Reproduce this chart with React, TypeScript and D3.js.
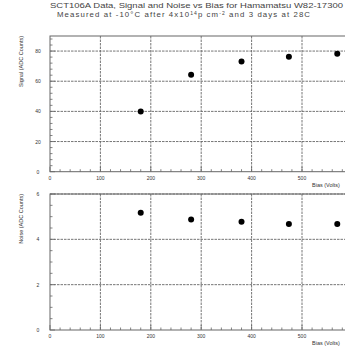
import React from "react";
import * as d3 from "d3";

const biasValues = [180, 280, 380, 474, 570];
const signalValues = [40, 64.3, 73.1, 76.2, 78.2];
const noiseValues = [5.17, 4.88, 4.78, 4.68, 4.68];
const xTicks = [0, 100, 200, 300, 400, 500];
const signalTicks = [0, 20, 40, 60, 80];
const noiseTicks = [0, 2, 4, 6];
const titleLine1 = "SCT106A Data, Signal and Noise vs Bias for Hamamatsu W82-17300";
const titleLine2a = "Measured at -10\u00B0C after 4x10";
const titleLine2b = "14";
const titleLine2c = "p cm";
const titleLine2d = "-2";
const titleLine2e = " and 3 days at 28C";

const W = 345;
const H = 348;
const font = "Liberation Sans, Arial, sans-serif";

const x = d3.scaleLinear().domain([0, 600]).range([50, 352.4]);

type PanelProps = {
  yDomain: [number, number];
  yRange: [number, number];
  yTicks: number[];
  yMinorStep: number;
  values: number[];
  yTitle: string;
};

function Panel({ yDomain, yRange, yTicks, yMinorStep, values, yTitle }: PanelProps) {
  const y = d3.scaleLinear().domain(yDomain).range(yRange);
  const [y0, y1] = yRange;
  const xMinor = d3.range(0, 620, 20);
  const yMinor = d3.range(yDomain[0], yDomain[1] + 1e-9, yMinorStep);
  return (
    <g>
      {xTicks.slice(1).map((t) => (
        <line key={"gx" + t} x1={x(t)} x2={x(t)} y1={y1} y2={y0} stroke="#666" strokeWidth={0.9} strokeDasharray="2.5,1" />
      ))}
      {yTicks.slice(1).map((t) => (
        <line key={"gy" + t} x1={x(0)} x2={x(600)} y1={y(t)} y2={y(t)} stroke="#666" strokeWidth={0.9} strokeDasharray="2.5,1" />
      ))}
      <rect x={x(0)} y={y1} width={x(600) - x(0)} height={y0 - y1} fill="none" stroke="#666" strokeWidth={1} />
      {xMinor.map((t) => (
        <line key={"mx" + t} x1={x(t)} x2={x(t)} y1={y0} y2={y0 - (t % 100 === 0 ? 5 : 2.5)} stroke="#666" strokeWidth={0.8} />
      ))}
      {yMinor.map((t, i) => (
        <line key={"my" + i} x1={x(0)} x2={x(0) + (yTicks.some((m) => Math.abs(m - t) < 1e-6) ? 5 : 2.5)} y1={y(t)} y2={y(t)} stroke="#666" strokeWidth={0.8} />
      ))}
      {xTicks.map((t) => (
        <text key={"lx" + t} x={x(t)} y={y0 + 8} fontSize={5} fontFamily={font} textAnchor="middle" fill="#333">{t}</text>
      ))}
      {yTicks.map((t) => (
        <text key={"ly" + t} x={38} y={y(t) + 2} fontSize={5} fontFamily={font} textAnchor="middle" fill="#333">{t}</text>
      ))}
      <text x={312} y={y0 + 15} fontSize={5.5} fontFamily={font} fill="#333">Bias (Volts)</text>
      <text transform={`translate(23, ${y1}) rotate(-90)`} fontSize={5.5} fontFamily={font} textAnchor="end" fill="#333">{yTitle}</text>
      {biasValues.map((b, i) => (
        <circle key={"p" + i} cx={x(b)} cy={y(values[i])} r={3} fill="#000" />
      ))}
    </g>
  );
}

export default function App() {
  return (
    <svg width={W} height={H} style={{ position: "absolute", left: 0, top: 0, background: "#fff" }}>
      <text x={50} y={8} fontSize={7.8} fontFamily={font} fill="#444" textLength={293} lengthAdjust="spacingAndGlyphs">{titleLine1}</text>
      <text x={57} y={17} fontSize={7.8} fontFamily={font} fill="#444" textLength={253} lengthAdjust="spacing">
        {titleLine2a}
        <tspan fontSize={5} dy={-2.5}>{titleLine2b}</tspan>
        <tspan dy={2.5}>{titleLine2c}</tspan>
        <tspan fontSize={5} dy={-2.5}>{titleLine2d}</tspan>
        <tspan dy={2.5}>{titleLine2e}</tspan>
      </text>
      <Panel yDomain={[0, 90]} yRange={[171.7, 36]} yTicks={signalTicks} yMinorStep={4} values={signalValues} yTitle="Signal (ADC Counts)" />
      <Panel yDomain={[0, 6]} yRange={[330, 194]} yTicks={noiseTicks} yMinorStep={0.5} values={noiseValues} yTitle="Noise (ADC Counts)" />
    </svg>
  );
}
